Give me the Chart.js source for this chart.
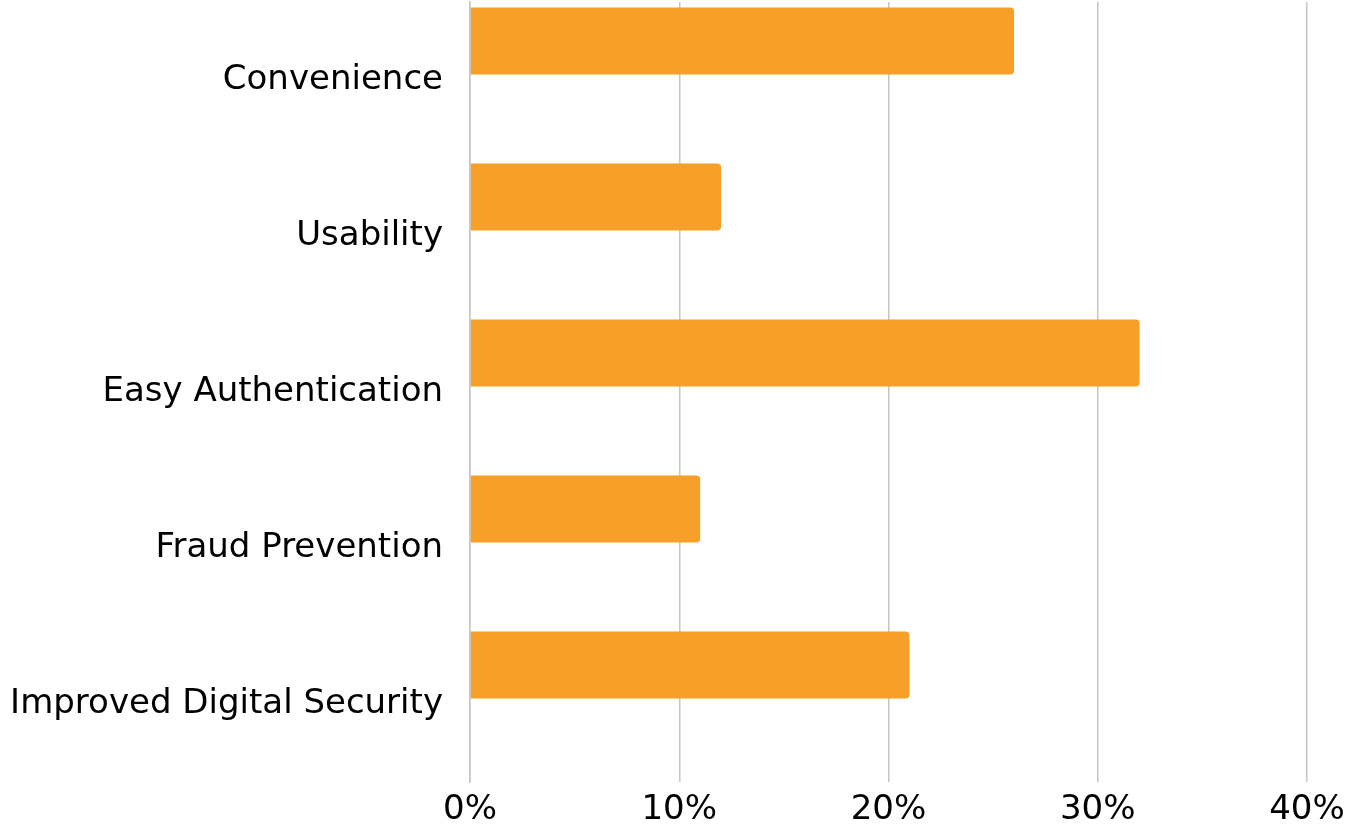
<!DOCTYPE html>
<html>
<head>
<meta charset="utf-8">
<script src="https://cdn.jsdelivr.net/npm/chart.js@4/dist/chart.umd.min.js"></script>
<style>
  html, body { margin: 0; padding: 0; background: #fff; }
  #wrap { width: 1362px; height: 829px; position: relative; }
</style>
</head>
<body>
<div id="wrap"><canvas id="barChart"></canvas></div>
<script>
// reasons people gave, top to bottom
const categories = [
    'Convenience',
    'Usability',
    'Easy Authentication',
    'Fraud Prevention',
    'Improved Digital Security'
];
// share of respondents, in percent
const shares = [26, 12, 32, 11, 21];
// empty second series, it only pushes the bars to the top of each row like the original
const spacer = [null, null, null, null, null];
const tickValues = [0, 10, 20, 30, 40];

const orange = '#F6A02A';
const gridGray = '#c6c6c6';
const fontFamily = '"DejaVu Sans", "Open Sans", sans-serif';

const ctx = document.getElementById('barChart').getContext('2d');

new Chart(ctx, {
    type: 'bar',
    data: {
        labels: categories,
        datasets: [{
            label: 'Share',
            data: shares,
            backgroundColor: orange,
            borderRadius: 4,
            borderSkipped: 'start',
            categoryPercentage: 1,
            barPercentage: 0.86
        }, {
            label: '',
            data: spacer,
            backgroundColor: orange,
            categoryPercentage: 1,
            barPercentage: 0.86
        }]
    },
    options: {
        indexAxis: 'y',
        responsive: true,
        maintainAspectRatio: false,
        animation: false,
        layout: {
            padding: { top: 2, right: 55, left: 0, bottom: 0 }
        },
        plugins: {
            legend: { display: false },
            tooltip: { enabled: false }
        },
        scales: {
            x: {
                min: 0,
                max: 40,
                afterBuildTicks: (scale) => {
                    scale.ticks = tickValues.map(v => ({ value: v }));
                },
                afterFit: (scale) => { scale.height = 47; },
                grid: {
                    color: gridGray,
                    lineWidth: 1.5,
                    drawTicks: false
                },
                border: { display: false },
                ticks: {
                    padding: 8,
                    color: '#000',
                    font: { family: fontFamily, size: 34 },
                    callback: (value) => value + '%'
                }
            },
            y: {
                afterFit: (scale) => {
                    scale.width = 470;
                    // no extra room above/below for the label halves
                    scale.paddingTop = 0;
                    scale.paddingBottom = 0;
                },
                grid: { display: false, drawTicks: false },
                border: { display: true, color: gridGray, width: 1.5 },
                ticks: {
                    padding: 27,
                    color: '#000',
                    font: { family: fontFamily, size: 34 }
                }
            }
        }
    }
});
</script>
</body>
</html>
